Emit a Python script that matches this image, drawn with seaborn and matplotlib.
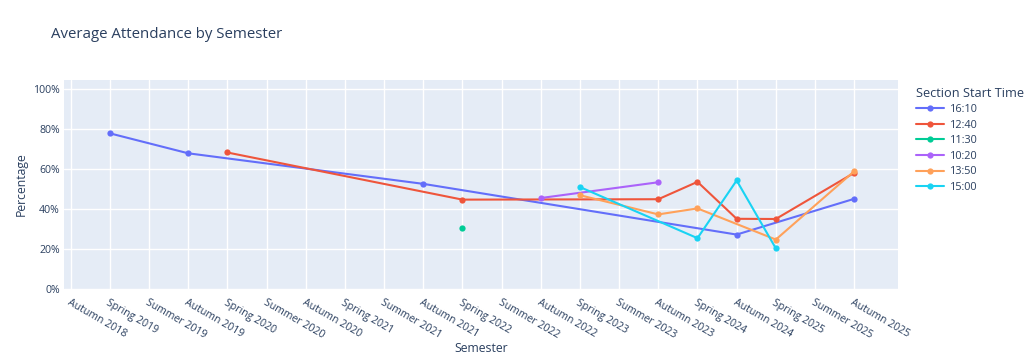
# =========================================
# AVERAGE ATTENDANCE BY SEMESTER
# =========================================

import pandas as pd
import numpy as np

import matplotlib
matplotlib.use("Agg")

import matplotlib.pyplot as plt
import seaborn as sns


# =========================================
# DATA
# =========================================

semesters = [
    'Autumn 2018', 'Spring 2019', 'Summer 2019', 'Autumn 2019',
    'Spring 2020', 'Summer 2020', 'Autumn 2020', 'Spring 2021',
    'Summer 2021', 'Autumn 2021', 'Spring 2022', 'Summer 2022',
    'Autumn 2022', 'Spring 2023', 'Summer 2023', 'Autumn 2023',
    'Spring 2024', 'Autumn 2024', 'Spring 2025', 'Summer 2025',
    'Autumn 2025'
]

sections = ['16:10', '12:40', '11:30', '10:20', '13:50', '15:00']

sec_1610_sem = ['Spring 2019', 'Autumn 2019', 'Autumn 2021', 'Autumn 2024', 'Autumn 2025']
sec_1610_val = [77.8, 67.8, 52.5, 27.1, 45.0]

sec_1240_sem = ['Spring 2020', 'Spring 2022', 'Autumn 2023', 'Spring 2024',
                'Autumn 2024', 'Spring 2025', 'Autumn 2025']
sec_1240_val = [68.2, 44.6, 44.8, 53.5, 35.0, 34.9, 58.0]

sec_1130_sem = ['Spring 2022']
sec_1130_val = [30.2]

sec_1020_sem = ['Autumn 2022', 'Autumn 2023']
sec_1020_val = [45.4, 53.3]

sec_1350_sem = ['Spring 2023', 'Autumn 2023', 'Spring 2024', 'Spring 2025', 'Autumn 2025']
sec_1350_val = [46.8, 37.2, 40.2, 24.6, 58.8]

sec_1500_sem = ['Spring 2023', 'Spring 2024', 'Autumn 2024', 'Spring 2025']
sec_1500_val = [50.9, 25.3, 54.2, 20.2]

palette = ['#636efa', '#EF553B', '#00cc96', '#ab63fa', '#FFA15A', '#19d3f3']


# =========================================
# BUILD LONG TABLE
# =========================================

frames = []

for name, sems, vals in [
    ('16:10', sec_1610_sem, sec_1610_val),
    ('12:40', sec_1240_sem, sec_1240_val),
    ('11:30', sec_1130_sem, sec_1130_val),
    ('10:20', sec_1020_sem, sec_1020_val),
    ('13:50', sec_1350_sem, sec_1350_val),
    ('15:00', sec_1500_sem, sec_1500_val),
]:

    frames.append(pd.DataFrame({
        'semester': sems,
        'pos': [semesters.index(s) for s in sems],
        'pct': np.array(vals) / 100,
        'section': name
    }))

df = pd.concat(frames, ignore_index=True)


# =========================================
# PLOT
# =========================================

sns.set_theme(style="white")

plt.rcParams['font.family'] = ['Open Sans', 'DejaVu Sans']

text_color = '#2a3f5f'

fig = plt.figure(figsize=(10.24, 3.63), dpi=100)

ax = fig.add_axes([0.0625, 0.2047, 0.8145, 0.5749])

ax.set_facecolor('#E5ECF6')

ax.set_axisbelow(True)

sns.lineplot(
    data=df,
    x='pos',
    y='pct',
    hue='section',
    hue_order=sections,
    palette=palette,
    marker='o',
    markersize=4.5,
    markeredgewidth=0,
    linewidth=1.5,
    ax=ax
)


# Axes styling

ax.set_xlim(-0.17, 21.12)

ax.set_ylim(0, 1.045)

ax.set_xticks(range(len(semesters)))

ax.set_xticklabels(
    semesters,
    rotation=-30,
    ha='left',
    va='top',
    rotation_mode='anchor',
    fontsize=7.6,
    color=text_color
)

ax.set_yticks([0, 0.2, 0.4, 0.6, 0.8, 1.0])

ax.set_yticklabels(
    ['0%', '20%', '40%', '60%', '80%', '100%'],
    fontsize=7.6,
    color=text_color
)

ax.tick_params(axis='both', length=0, pad=3)

ax.tick_params(axis='x', pad=6)

ax.grid(True, color='white', linewidth=1)

for spine in ax.spines.values():
    spine.set_visible(False)

ax.set_xlabel("Semester", fontsize=8.8, color=text_color)

ax.set_ylabel("Percentage", fontsize=8.8, color=text_color)

ax.xaxis.set_label_coords(0.5, -0.255)

ax.yaxis.set_label_coords(-0.044, 0.5)


# Title

fig.text(
    0.05, 0.905,
    "Average Attendance by Semester",
    fontsize=10.8,
    color=text_color,
    ha='left',
    va='center'
)


# Legend

handles, labels = ax.get_legend_handles_labels()

leg = ax.legend(
    handles,
    labels,
    title="Section Start Time",
    loc='upper left',
    bbox_to_anchor=(1.01, 1.015),
    frameon=False,
    fontsize=7.8,
    title_fontsize=9.2,
    handlelength=2.6,
    handletextpad=0.5,
    labelspacing=0.42,
    alignment='left'
)

for t in leg.get_texts():
    t.set_color(text_color)

leg.get_title().set_color(text_color)


plt.savefig("out.png", dpi=100)
